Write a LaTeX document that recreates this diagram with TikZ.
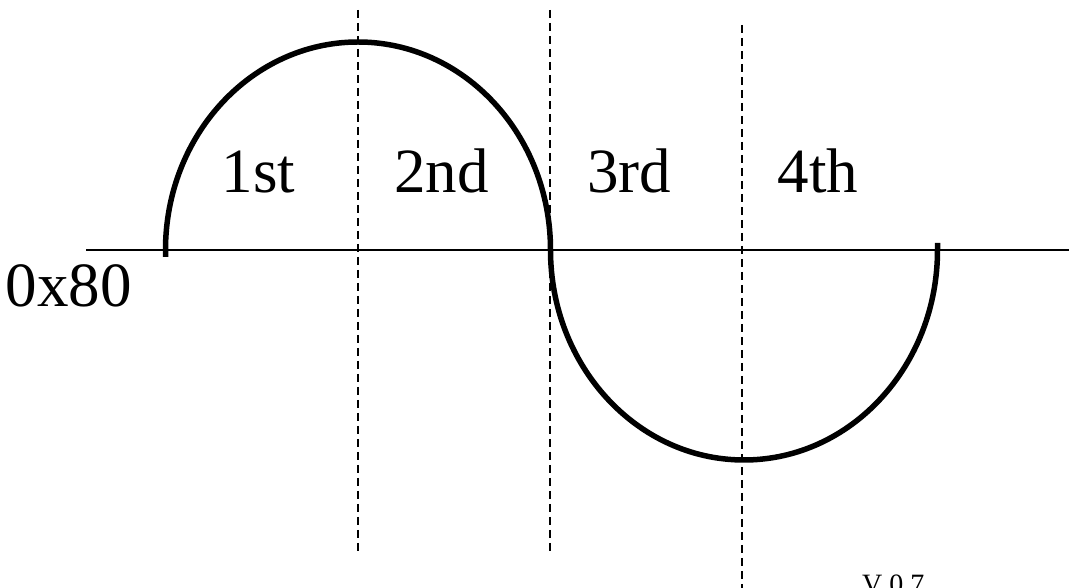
\documentclass[tikz,border=0pt]{standalone}
\usepackage{fontspec}
\setmainfont{Liberation Serif}
\begin{document}
\begin{tikzpicture}[x=1pt,y=1pt,
  axis/.style={line width=1.6pt},
  wave/.style={line width=5.5pt},
  guide/.style={line width=1.3pt, dash pattern=on 8pt off 5pt},
  lbl/.style={font=\fontsize{63}{70}\selectfont, inner sep=0pt, anchor=base},
  ver/.style={font=\fontsize{28}{32}\selectfont, inner sep=0pt, anchor=base west}]
\useasboundingbox (0,0) rectangle (1069,588);
% guides
\coordinate (g1t) at (358,578); \coordinate (g1b) at (358,33);
\coordinate (g2t) at (550,578); \coordinate (g2b) at (550,33);
\coordinate (g3t) at (742,563); \coordinate (g3b) at (742,0);
\draw[guide] (g1t) -- (g1b);
\draw[guide] (g2t) -- (g2b);
\draw[guide] (g3t) -- (g3b);
% axis
\coordinate (axl) at (86,338); \coordinate (axr) at (1069,338);
\draw[axis] (axl) -- (axr);
% wave
\coordinate (ws) at (165.5,331);
\draw[wave] (ws) -- (165.5,338) arc[start angle=180,end angle=0,x radius=192.5,y radius=208]
  arc[start angle=180,end angle=360,x radius=193.5,y radius=210] -- ++(0,7);
% labels
\node[lbl] (l1) at (258.5,395) {1st};
\node[lbl] (l2) at (441.5,395) {2nd};
\node[lbl] (l3) at (629,395) {3rd};
\node[lbl] (l4) at (818,395) {4th};
\node[lbl] (l0) at (68.5,281) {0x80};
\node[ver] (v) at (862,-6) {V 0.7};
\end{tikzpicture}
\end{document}
